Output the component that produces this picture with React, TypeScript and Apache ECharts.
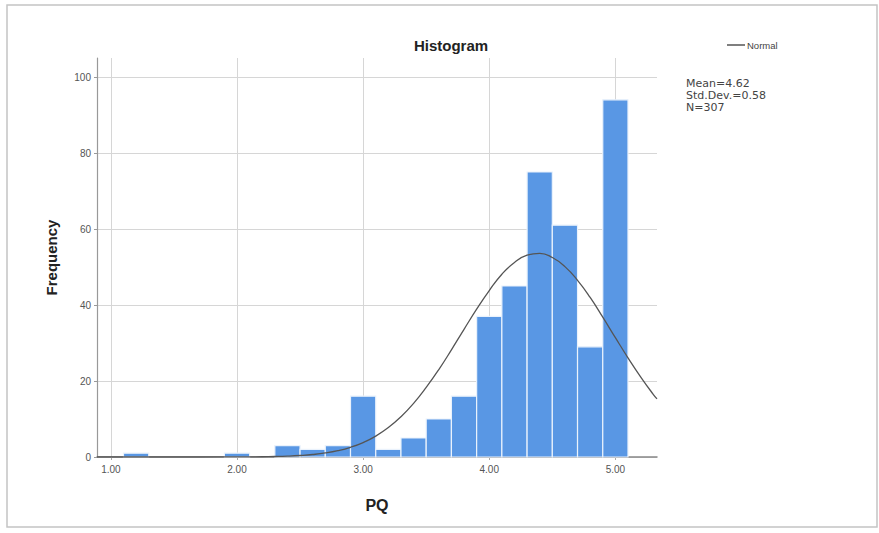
import React, { useEffect, useRef } from "react";
import * as echarts from "echarts";

// Histogram bins (centers) and their frequencies
const binCenters = [1.2, 2.0, 2.4, 2.6, 2.8, 3.0, 3.2, 3.4, 3.6, 3.8, 4.0, 4.2, 4.4, 4.6, 4.8, 5.0];
const frequencies = [1, 1, 3, 2, 3, 16, 2, 5, 10, 16, 37, 45, 75, 61, 29, 94];
const binWidth = 0.2;

// Normal curve, points
const curveX = [0.89, 1.5, 1.9, 2.0, 2.1, 2.2, 2.3, 2.4, 2.5, 2.6, 2.7, 2.8, 2.9, 3.0, 3.1, 3.2, 3.3, 3.4, 3.5, 3.6, 3.7, 3.8, 3.9, 4.0, 4.1, 4.2, 4.3, 4.4, 4.5, 4.6, 4.7, 4.8, 4.9, 5.0, 5.1, 5.2, 5.3, 5.33];
const curveY = [0, 0, 0.01, 0.02, 0.04, 0.07, 0.13, 0.23, 0.4, 0.66, 1.06, 1.67, 2.56, 3.8, 5.5, 7.75, 10.6, 14.1, 18.3, 23.0, 28.2, 33.6, 38.9, 43.8, 48.1, 51.2, 53.1, 53.6, 52.5, 50.1, 46.5, 42.0, 36.8, 31.4, 26.1, 21.1, 16.5, 15.3];

const xTickValues = [1, 2, 3, 4, 5];
const statsLines = ["Mean=4.62", "Std.Dev.=0.58", "N=307"];

export default function App() {
  const ref = useRef<HTMLDivElement>(null);
  useEffect(() => {
    if (!ref.current) return;
    const chart = echarts.init(ref.current, null, { renderer: "svg" });
    const option: any = {
      animation: false,
      backgroundColor: "#ffffff",
      title: {
        text: "Histogram",
        left: 446,
        top: 33,
        textAlign: "center",
        textStyle: { fontFamily: "Liberation Sans", fontWeight: "bold", fontSize: 15, color: "#222" },
      },
      legend: {
        data: ["Normal"],
        left: 722,
        top: 35,
        icon: "rect",
        itemWidth: 18,
        itemHeight: 1.5,
        selectedMode: false,
        textStyle: { fontFamily: "Liberation Sans", fontSize: 9.5, color: "#444", padding: [0, 0, 0, -3] },
      },
      grid: { left: 97, right: 222, top: 58, bottom: 76, containLabel: false },
      xAxis: {
        type: "value",
        min: 0.89,
        max: 5.33,
        name: "PQ",
        nameLocation: "middle",
        nameGap: 40,
        nameTextStyle: { fontFamily: "Liberation Sans", fontWeight: "bold", fontSize: 16, color: "#222" },
        axisLine: { show: true, lineStyle: { color: "#888", width: 1.5 } },
        axisTick: { show: true, customValues: xTickValues, length: 3, lineStyle: { color: "#aaa" } },
        axisLabel: {
          customValues: xTickValues,
          margin: 7,
          fontFamily: "Liberation Sans",
          fontSize: 10,
          color: "#555",
          formatter: (v: number) => v.toFixed(2),
        },
        splitLine: { show: true, lineStyle: { color: "#d6d6d6", width: 1 } },
      },
      yAxis: {
        type: "value",
        min: 0,
        max: 105,
        interval: 20,
        name: "Frequency",
        nameLocation: "middle",
        nameGap: 38,
        nameTextStyle: { fontFamily: "Liberation Sans", fontWeight: "bold", fontSize: 15, color: "#222" },
        axisLine: { show: true, lineStyle: { color: "#999", width: 1.2 } },
        axisTick: { show: true, length: 3, lineStyle: { color: "#999" } },
        axisLabel: { showMaxLabel: false, margin: 6, fontFamily: "Liberation Sans", fontSize: 10, color: "#555" },
        splitLine: { show: true, showMaxLine: false, lineStyle: { color: "#d6d6d6", width: 1 } },
      },
      series: [
        {
          type: "custom",
          name: "Histogram",
          data: binCenters.map((c, i) => [c, frequencies[i]]),
          encode: { x: 0, y: 1 },
          z: 2,
          renderItem: (params: any, api: any) => {
            const c = api.value(0);
            const v = api.value(1);
            const p0 = api.coord([c - binWidth / 2, v]);
            const p1 = api.coord([c + binWidth / 2, 0]);
            return {
              type: "rect",
              shape: { x: p0[0], y: p0[1], width: p1[0] - p0[0], height: p1[1] - p0[1] },
              style: { fill: "#5997e4", stroke: "#eaf2fc", lineWidth: 1.2 },
            };
          },
        },
        {
          type: "line",
          name: "Normal",
          data: curveX.map((x, i) => [x, curveY[i]]),
          smooth: true,
          symbol: "none",
          z: 3,
          color: "#555",
          lineStyle: { color: "#555", width: 1.3 },
        },
      ],
      graphic: [
        {
          type: "rect",
          shape: { x: 7, y: 5, width: 870, height: 522 },
          style: { fill: "none", stroke: "#c4c4c4", lineWidth: 1.5 },
          silent: true,
        },
        {
          type: "text",
          left: 686,
          top: 77,
          style: {
            text: statsLines.join("\n"),
            font: "11px 'DejaVu Sans'",
            fill: "#444",
            lineHeight: 12,
          },
        },
      ],
    };
    chart.setOption(option);
    return () => chart.dispose();
  }, []);
  return (
    <div
      ref={ref}
      style={{ position: "absolute", left: 0, top: 0, width: 879, height: 533 }}
    />
  );
}
